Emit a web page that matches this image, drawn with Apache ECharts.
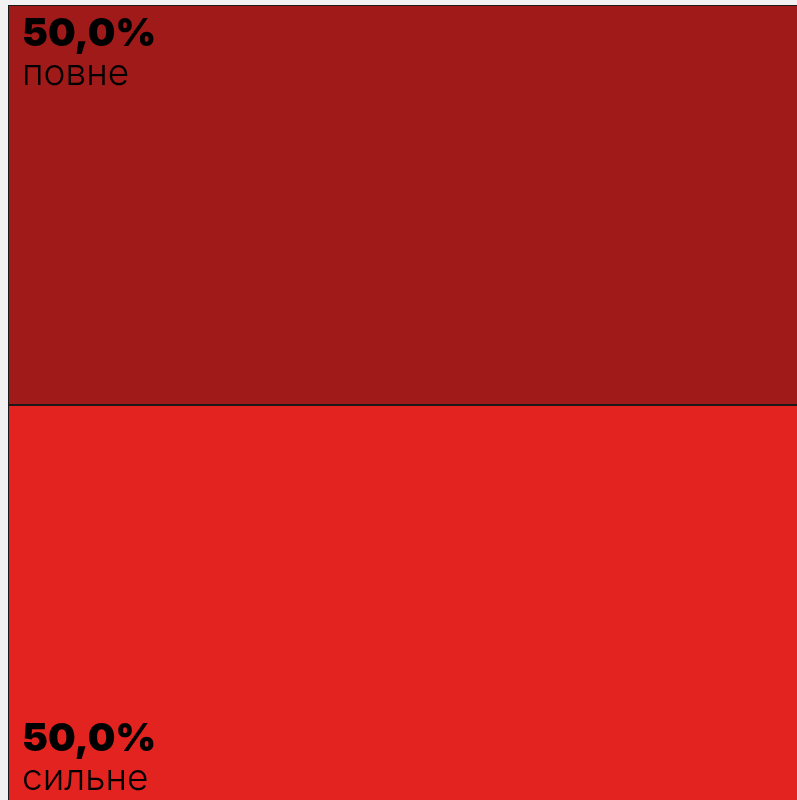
<!DOCTYPE html>
<html>
<head>
<meta charset="utf-8">
<script src="https://cdn.jsdelivr.net/npm/echarts@6/dist/echarts.min.js"></script>
<style>
  html, body { margin: 0; padding: 0; background: #f2f2f2; }
  #chart { width: 797px; height: 800px; }
</style>
</head>
<body>
<div id="chart"></div>
<script>
// частки (відсотки)
const categories = ['повне', 'сильне']
const values = [50.0, 50.0]
const colors = ['#a01a19', '#e2231f']

// у нижньому блоці підпис притиснуто донизу (порожній рядок зверху)
const labelAtBottom = [false, true]

let myChart = echarts.init(document.getElementById('chart'))

let data = categories.map((name, i) => ({
  name: name,
  value: values[i],
  itemStyle: { color: colors[i] }
}))

myChart.setOption({
  backgroundColor: '#f2f2f2',
  series: [{
    type: 'treemap',
    left: 8,
    top: 5,
    width: 830, // ширше за висоту, щоб блоки лягли один під одним
    height: 800,
    roam: false,
    nodeClick: false,
    breadcrumb: { show: false },
    sort: false,
    levels: [{
      itemStyle: { borderWidth: 0, gapWidth: 0 }
    }],
    itemStyle: {
      borderColor: '#1a1a1a',
      borderWidth: 1,
      gapWidth: 0
    },
    label: {
      show: true,
      position: 'insideTopLeft',
      distance: 5,
      padding: [3, 0, 0, 8],
      formatter (p) {
        let txt = '{p|' + p.value.toFixed(1).replace('.', ',') + '%}\n{n|' + p.name + '}'
        return labelAtBottom[categories.indexOf(p.name)] ? '{gap| }\n' + txt : txt
      },
      rich: {
        gap: {
          fontSize: 10,
          lineHeight: 305
        },
        p: {
          fontFamily: 'Inter',
          fontWeight: 900,
          fontSize: 39,
          lineHeight: 40,
          color: '#000'
        },
        n: {
          fontFamily: 'Inter',
          fontWeight: 300,
          fontSize: 37,
          lineHeight: 40,
          color: '#000'
        }
      }
    },
    data: data
  }]
})
</script>
</body>
</html>
